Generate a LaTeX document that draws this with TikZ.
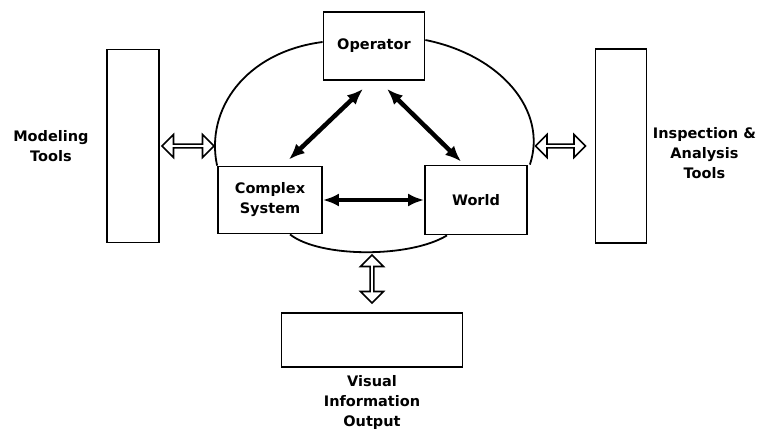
\documentclass[tikz,border=0pt]{standalone}
\usepackage{fontspec}
\setmainfont{DejaVu Sans}
\usetikzlibrary{positioning}
\usetikzlibrary{arrows.meta}
\usetikzlibrary{shapes.arrows}

\tikzset{
  box/.style={draw, line width=1.8pt, inner sep=0pt, align=center},
  thickarrow/.style={{Latex[length=16pt,width=13pt]}-{Latex[length=16pt,width=13pt]}, line width=4.5pt},
  hollow/.style={double arrow, draw, line width=1.6pt, inner sep=0pt,
    minimum width=23pt, minimum height=50pt, double arrow head extend=4pt},
  loopline/.style={line width=1.8pt},
  lbl/.style={align=center}
}

\begin{document}
\begin{tikzpicture}[x=1pt,y=-1pt,font=\fontsize{14.5}{20}\selectfont\bfseries]
\useasboundingbox (0,0) rectangle (761,433);
% the three inner blocks
\node[box, minimum width=101pt, minimum height=68pt] (op) at (374,46)  {Operator};
\node[box, minimum width=104pt, minimum height=67pt] (cs) at (270,200) {Complex\\System};
\node[box, minimum width=102pt, minimum height=69pt] (wd) at (476,200) {World};
% tool panels
\node[box, minimum width=52pt, minimum height=193pt] (mt) at (133,146) {};
\node[box, minimum width=51pt, minimum height=194pt] (ia) at (621,146) {};
\node[box, minimum width=181pt, minimum height=54pt] (vo) at (372,340) {};
\node[lbl, left=14pt of mt] (mtl) {Modeling\\Tools};
\node[lbl, right=2pt of ia, yshift=-7pt] (ial) {Inspection \&\\Analysis\\Tools};
\node[lbl, below=4pt of vo] (vol) {Visual\\Information\\Output};
% enclosing loop
\draw[loopline] ([yshift=4pt]op.west) .. controls (245,52) and (205,110) .. (cs.north west);
\draw[loopline] ([yshift=6pt]op.east) .. controls (500,55) and (548,110) .. ([xshift=2pt]wd.north east);
\draw[loopline] ([xshift=20pt]cs.south) .. controls (320,258) and (410,258) .. ([xshift=-29pt]wd.south);
% interactions
\draw[thickarrow] ([xshift=-11pt,yshift=-8pt]op.south) -- ([xshift=-34pt,yshift=6pt]cs.north east);
\draw[thickarrow] ([xshift=13pt,yshift=-8pt]op.south) -- ([xshift=37pt,yshift=3pt]wd.north west);
\draw[thickarrow] (cs) -- (wd);
% exchange with the tools
\node[hollow, minimum height=52pt, right=1pt of mt] (la) {};
\node[hollow, left=8pt of ia] (ra) {};
\node[hollow, minimum height=48pt, shape border rotate=90, above=8pt of vo] (ba) {};
\end{tikzpicture}
\end{document}
